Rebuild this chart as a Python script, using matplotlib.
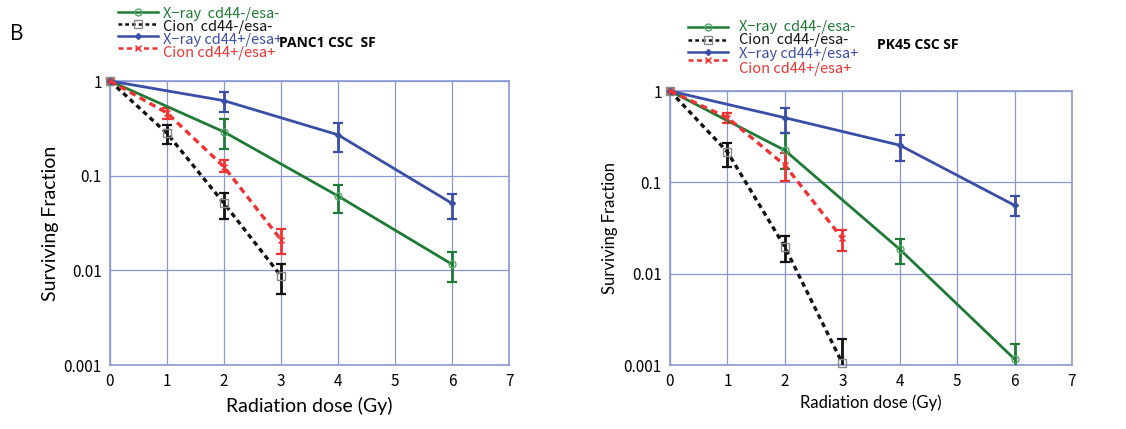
import numpy as np
import matplotlib
matplotlib.use("Agg")
import matplotlib.pyplot as plt
from matplotlib.lines import Line2D
from matplotlib.ticker import FixedLocator, FixedFormatter

# ---- data ----
labels = ["X\u2212ray  cd44-/esa-", "Cion  cd44-/esa-", "X\u2212ray cd44+/esa+", "Cion cd44+/esa+"]

# PANC1
panc_xray_neg_dose = [0, 2, 4, 6]
panc_xray_neg_sf = [1.0, 0.29, 0.061, 0.0116]
panc_xray_neg_hi = [1.0, 0.40, 0.079, 0.0156]
panc_xray_neg_lo = [1.0, 0.19, 0.040, 0.0075]

panc_cion_neg_dose = [0, 1, 2, 3]
panc_cion_neg_sf = [1.0, 0.28, 0.051, 0.0087]
panc_cion_neg_hi = [1.0, 0.34, 0.066, 0.0118]
panc_cion_neg_lo = [1.0, 0.215, 0.035, 0.0056]

panc_xray_pos_dose = [0, 2, 4, 6]
panc_xray_pos_sf = [1.0, 0.62, 0.27, 0.051]
panc_xray_pos_hi = [1.0, 0.76, 0.36, 0.064]
panc_xray_pos_lo = [1.0, 0.47, 0.18, 0.035]

panc_cion_pos_dose = [0, 1, 2, 3]
panc_cion_pos_sf = [1.0, 0.46, 0.124, 0.021]
panc_cion_pos_hi = [1.0, 0.52, 0.148, 0.027]
panc_cion_pos_lo = [1.0, 0.40, 0.109, 0.0148]

# PK45
pk_xray_neg_dose = [0, 2, 4, 6]
pk_xray_neg_sf = [1.0, 0.224, 0.0185, 0.00116]
pk_xray_neg_hi = [1.0, 0.35, 0.024, 0.0017]
pk_xray_neg_lo = [1.0, 0.14, 0.0126, 0.0008]

pk_cion_neg_dose = [0, 1, 2, 3]
pk_cion_neg_sf = [1.0, 0.215, 0.0196, 0.00105]
pk_cion_neg_hi = [1.0, 0.27, 0.026, 0.00195]
pk_cion_neg_lo = [1.0, 0.147, 0.0133, 0.0008]

pk_xray_pos_dose = [0, 2, 4, 6]
pk_xray_pos_sf = [1.0, 0.51, 0.255, 0.056]
pk_xray_pos_hi = [1.0, 0.65, 0.33, 0.07]
pk_xray_pos_lo = [1.0, 0.35, 0.17, 0.043]

pk_cion_pos_dose = [0, 1, 2, 3]
pk_cion_pos_sf = [1.0, 0.51, 0.154, 0.0243]
pk_cion_pos_hi = [1.0, 0.57, 0.21, 0.030]
pk_cion_pos_lo = [1.0, 0.45, 0.103, 0.0177]

xticks = [0, 1, 2, 3, 4, 5, 6, 7]
yticks = [0.001, 0.01, 0.1, 1]
ytick_labels = ["0.001", "0.01", "0.1", "1"]

# ---- styles ----
green = "#1f7a35"
black = "#111111"
blue = "#3b4ea6"
red = "#f03232"
gridc = "#8a97d6"

styles = [
    dict(color=green, ls="-", marker="o", mfc="none", ms=5, mec="#55a86a", lw=2.0),
    dict(color=black, ls=(0, (1.5, 1.2)), marker="s", mfc="none", ms=6, mec="#888888", lw=2.4),
    dict(color=blue, ls="-", marker="D", mfc=blue, ms=3, mec=blue, lw=2.0),
    dict(color=red, ls=(0, (2.0, 1.4)), marker="x", mfc=red, ms=5, mec=red, lw=2.4),
]

W, H = 1126, 429
fig = plt.figure(figsize=(W / 100, H / 100), dpi=100)
plt.rcParams['font.family'] = ['Noto Sans CJK JP', 'DejaVu Sans']


def px(x0, y0, x1, y1):
    return [x0 / W, 1 - y1 / H, (x1 - x0) / W, (y1 - y0) / H]


def panel(ax, series, xlabel_size, ylabel_size):
    ax.set_yscale("log")
    for (d, sf, hi, lo), st in zip(series, styles):
        d = np.array(d); sf = np.array(sf)
        yerr = [sf - np.array(lo), np.array(hi) - sf]
        ax.errorbar(d, sf, yerr=yerr, fmt="none", ecolor=st["color"], elinewidth=2.0,
                    capsize=3.5, capthick=1.6, zorder=3)
        ax.plot(d, sf, color=st["color"], ls=st["ls"], lw=st["lw"], marker=st["marker"],
                mfc=st["mfc"], mec=st["mec"], ms=st["ms"], mew=1.0, zorder=4, clip_on=False)
    ax.set_xlim(0, 7)
    ax.set_ylim(0.001, 1)
    ax.xaxis.set_major_locator(FixedLocator(xticks))
    ax.yaxis.set_major_locator(FixedLocator(yticks))
    ax.yaxis.set_major_formatter(FixedFormatter(ytick_labels))
    ax.yaxis.set_minor_locator(FixedLocator([]))
    ax.grid(True, color=gridc, lw=0.9)
    for s in ax.spines.values():
        s.set_color(gridc)
        s.set_linewidth(1.2)
    ax.tick_params(length=0, labelsize=11, pad=6)
    ax.set_ylabel("Surviving Fraction", fontsize=ylabel_size, family="Lato", labelpad=3)
    ax.set_xlabel("Radiation dose (Gy)", fontsize=xlabel_size, family="Lato", labelpad=5)


def legend(x0, ys, text_ys, x_text):
    for st, lab, y, ty in zip(styles, labels, ys, text_ys):
        ln = Line2D([x0 / W, (x0 + 40) / W], [1 - y / H, 1 - y / H], color=st["color"],
                    ls=st["ls"], lw=1.8, transform=fig.transFigure)
        mk = Line2D([(x0 + 20) / W], [1 - y / H], marker=st["marker"], mfc=st["mfc"],
                    mec=st["mec"], ms=st["ms"], mew=1.0, ls="none", transform=fig.transFigure)
        fig.add_artist(ln)
        fig.add_artist(mk)
        fig.text(x_text / W, 1 - ty / H, lab, color=st["color"], fontsize=10.5,
                 va="center", ha="left")


ax1 = fig.add_axes(px(110, 81, 509, 365))
panel(ax1, [
    (panc_xray_neg_dose, panc_xray_neg_sf, panc_xray_neg_hi, panc_xray_neg_lo),
    (panc_cion_neg_dose, panc_cion_neg_sf, panc_cion_neg_hi, panc_cion_neg_lo),
    (panc_xray_pos_dose, panc_xray_pos_sf, panc_xray_pos_hi, panc_xray_pos_lo),
    (panc_cion_pos_dose, panc_cion_pos_sf, panc_cion_pos_hi, panc_cion_pos_lo),
], 14, 14)

ax2 = fig.add_axes(px(670, 91, 1072, 365))
panel(ax2, [
    (pk_xray_neg_dose, pk_xray_neg_sf, pk_xray_neg_hi, pk_xray_neg_lo),
    (pk_cion_neg_dose, pk_cion_neg_sf, pk_cion_neg_hi, pk_cion_neg_lo),
    (pk_xray_pos_dose, pk_xray_pos_sf, pk_xray_pos_hi, pk_xray_pos_lo),
    (pk_cion_pos_dose, pk_cion_pos_sf, pk_cion_pos_hi, pk_cion_pos_lo),
], 12, 12)
ax2.xaxis.labelpad = 3
ax2.yaxis.labelpad = 4

legend(118, [12, 24, 36, 48], [14, 27, 40, 53], 163)
legend(688, [27, 40, 52, 60], [27, 40, 54, 69], 739)

fig.text(279 / W, 1 - 43 / H, "PANC1 CSC  SF", fontsize=10, fontweight="bold",
         family="Open Sans", va="center")
fig.text(877 / W, 1 - 45 / H, "PK45 CSC SF", fontsize=10, fontweight="bold",
         family="Open Sans", va="center")
fig.text(10 / W, 1 - 35 / H, "B", fontsize=15, family="Open Sans", va="center")

fig.savefig("out.png", dpi=100)
